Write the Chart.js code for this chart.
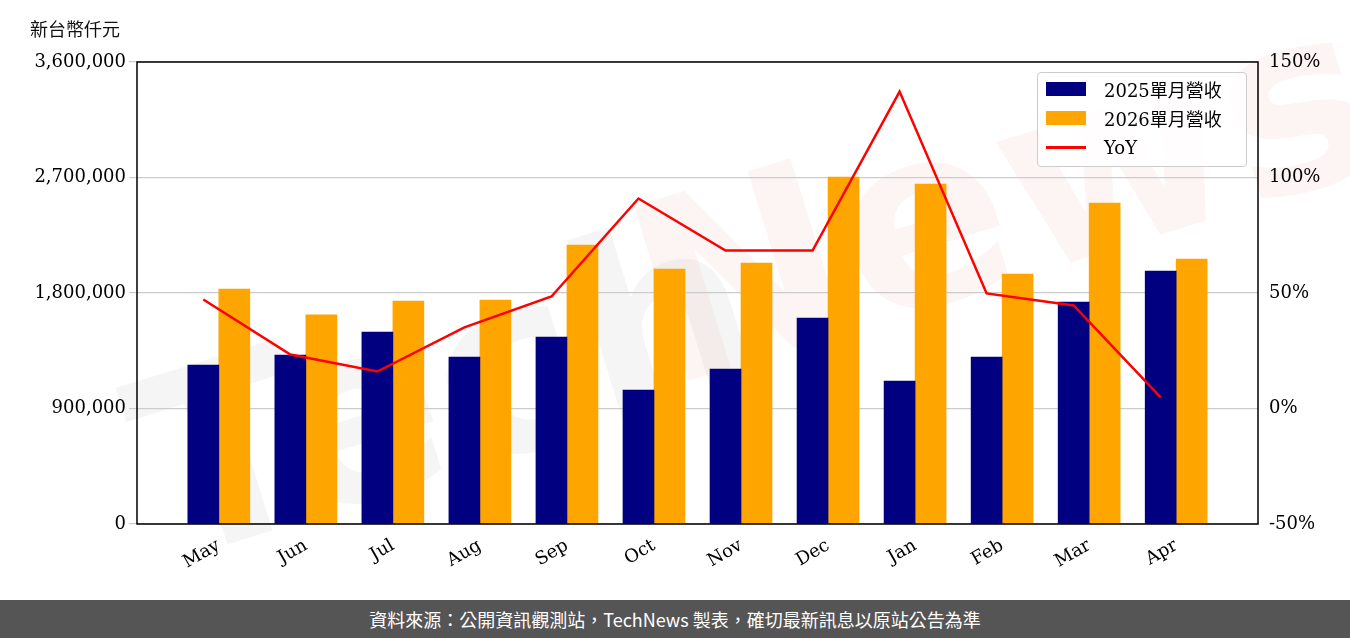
<!DOCTYPE html>
<html><head><meta charset="utf-8">
<script src="https://cdn.jsdelivr.net/npm/chart.js@4"></script>
<style>
body{margin:0;width:1350px;height:638px;background:#fff;position:relative;overflow:hidden;font-family:"DejaVu Serif",serif}
#wrap{position:absolute;left:0;top:0;width:1350px;height:600px}
#unit{position:absolute;left:30px;top:15px;font-size:18px;font-family:"Noto Sans CJK TC";color:#111}
#foot{position:absolute;left:0;top:600px;width:1350px;height:38px;background:#555;color:#fff;font-family:"Noto Sans CJK TC";font-size:18px;text-align:center;line-height:38px}
#leg{position:absolute;left:1037px;top:72px;width:208px;height:93px;border:1px solid #ccc;border-radius:4px;background:rgba(255,255,255,0.8);font-size:18px}
.it{position:absolute;left:8px;height:24px;display:flex;align-items:center}
.sw{width:40px;height:14px;margin-right:18px}
</style></head><body>
<div id="wrap"><canvas id="c" width="1350" height="600"></canvas></div>
<div id="unit">新台幣仟元</div>
<div id="leg">
<div class="it" style="top:4px"><div class="sw" style="background:#000080"></div><span style="font-family:'DejaVu Serif','Noto Sans CJK TC'">2025單月營收</span></div>
<div class="it" style="top:33px"><div class="sw" style="background:#FFA500"></div><span style="font-family:'DejaVu Serif','Noto Sans CJK TC'">2026單月營收</span></div>
<div class="it" style="top:62px"><div class="sw" style="height:3px;background:#f00"></div><span>YoY</span></div>
</div>
<div id="foot">資料來源：公開資訊觀測站，TechNews 製表，確切最新訊息以原站公告為準</div>
<script>
const months=["May","Jun","Jul","Aug","Sep","Oct","Nov","Dec","Jan","Feb","Mar","Apr"];
const rev2025=[1239000,1317000,1496000,1301000,1457000,1044000,1208000,1605000,1114000,1301000,1730000,1971000];
const rev2026=[1831000,1629000,1738000,1745000,2174000,1987000,2034000,2704000,2649000,1948000,2501000,2065000];
const yoy=[47.2,23.4,16.0,35.1,48.5,90.9,68.4,68.4,137.2,49.8,44.6,4.8];
const leftTicks=[0,900000,1800000,2700000,3600000];
const rightTicks=[-50,0,50,100,150];
const font={family:"DejaVu Serif",size:18};
const deco={id:'deco',
 beforeDraw(ch){const c=ch.ctx;c.save();c.translate(700,330);c.rotate(-0.3);
  c.font='bold 250px "DejaVu Sans"';c.textAlign='center';c.textBaseline='middle';
  c.fillStyle='rgba(200,200,200,0.18)';c.fillText('Tech',-260,0);c.fillStyle='rgba(240,150,150,0.1)';c.fillText('News',330,-20);c.restore();},
 afterDraw(ch){const c=ch.ctx,a=ch.chartArea;c.save();c.strokeStyle='#000';c.lineWidth=1.5;c.strokeRect(a.left,a.top,a.right-a.left,a.bottom-a.top);c.restore();}};
new Chart(document.getElementById('c'),{
 data:{datasets:[
  {type:'bar',data:rev2025.map((v,i)=>({x:i,y:v})),backgroundColor:'#000080',yAxisID:'y',order:2,barThickness:31},
  {type:'bar',data:rev2026.map((v,i)=>({x:i,y:v})),backgroundColor:'#FFA500',yAxisID:'y',order:2,barThickness:31},
  {type:'line',data:yoy.map((v,i)=>({x:i-0.178,y:v})),borderColor:'#f00',borderWidth:2.5,pointRadius:0,yAxisID:'y2',order:1,tension:0}
 ]},
 options:{responsive:false,animation:false,
  layout:{padding:{left:0,right:0,top:62,bottom:0}},
  plugins:{legend:{display:false},tooltip:{enabled:false}},
  scales:{
   x:{type:'linear',min:-0.94,max:11.94,offset:false,grid:{display:false},border:{display:false},
      afterBuildTicks:s=>{s.ticks=months.map((m,i)=>({value:i}))},
      ticks:{font,color:'#000',maxRotation:30,minRotation:30,callback:v=>months[v]},afterFit:s=>{s.height=76}},
   y:{min:0,max:3600000,afterBuildTicks:s=>{s.ticks=leftTicks.map(v=>({value:v}))},
      ticks:{font,color:'#000',callback:v=>v.toLocaleString('en-US')},grid:{color:'#ccc',lineWidth:1.2},border:{display:false},afterFit:s=>{s.width=137}},
   y2:{position:'right',min:-50,max:150,afterBuildTicks:s=>{s.ticks=rightTicks.map(v=>({value:v}))},
      ticks:{font,color:'#000',callback:v=>v+'%'},grid:{display:false},border:{display:false},afterFit:s=>{s.width=92}}
  }},
 plugins:[deco]});
</script></body></html>
